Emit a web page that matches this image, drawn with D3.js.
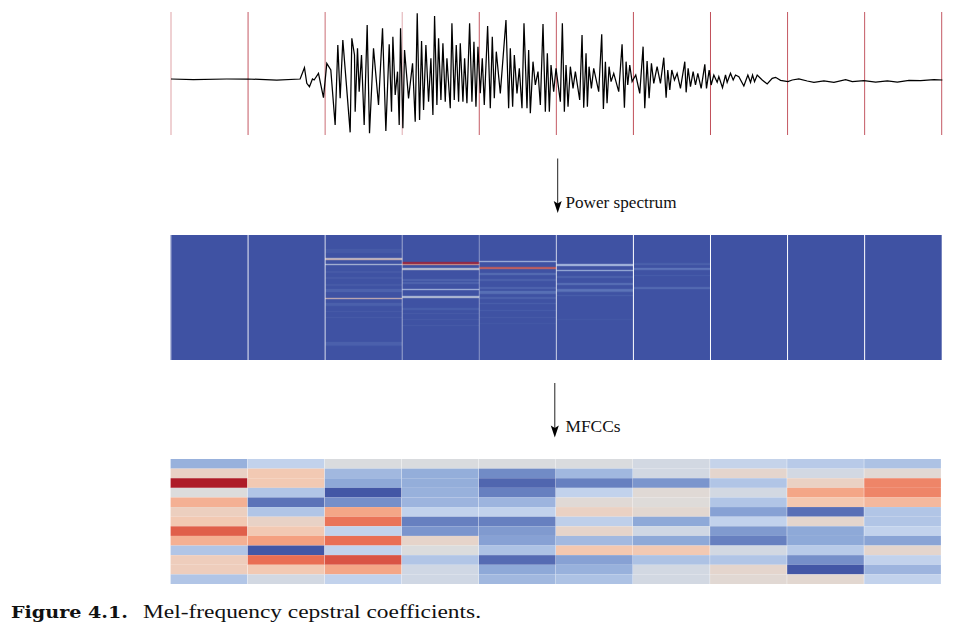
<!DOCTYPE html>
<html><head><meta charset="utf-8">
<script src="https://cdn.jsdelivr.net/npm/d3@7"></script>
<style>html,body{margin:0;padding:0;background:#fff}svg{display:block}</style>
</head><body><svg id="c" width="961" height="628"></svg>
<script>
// Waveform: sample index and amplitude of the turning points
const waveTime = [33,100,200,263,350,420,433,440,448,457,462,475,490,500,512,525,533,540,548,558,570,575,583,585,592,597,604,612,621,628,640,655,667,677,687,694,698,705,712,717,721,728,733,745,757,765,771,778,784,790,797,805,812,818,823,830,835,842,848,855,860,870,875,882,888,895,900,908,913,920,928,935,941,947,953,960,966,972,982,990,996,1002,1008,1020,1037,1045,1050,1057,1062,1070,1077,1085,1091,1100,1105,1110,1118,1125,1133,1140,1148,1155,1161,1167,1172,1180,1187,1200,1206,1212,1217,1223,1230,1238,1245,1258,1265,1270,1277,1281,1286,1293,1300,1315,1324,1329,1335,1340,1346,1352,1360,1375,1385,1392,1397,1402,1408,1415,1426,1438,1448,1453,1460,1466,1473,1480,1490,1500,1510,1517,1522,1528,1534,1542,1550,1560,1573,1577,1583,1590,1598,1605,1612,1622,1633,1638,1646,1652,1660,1670,1675,1686,1695,1700,1710,1718,1725,1735,1750,1762,1770,1776,1782,1790,1805,1820,1835,1845,1860,1882,1895,1915,1940,1960,1990,2020,2055,2075,2110,2145,2180,2210,2245,2280,2320,2345];
const waveAmp = [3,1,3,3,0,3,37,-10,-20,3,0,20,-53,50,30,-135,105,-55,120,-5,-157,125,75,-95,95,-35,75,-135,165,-160,95,-75,155,-153,107,-95,130,-45,25,-135,155,-145,90,-55,50,-125,200,-120,117,-90,105,-65,65,-105,192,-75,125,-60,110,-65,65,-85,170,-60,105,-65,110,-65,65,-70,170,-65,115,-80,100,-40,65,-75,162,-85,130,-55,85,-40,180,-85,95,-80,75,-40,35,-85,170,-85,90,-100,55,-15,25,-75,168,-95,80,-95,45,-35,35,-65,170,-95,45,-80,40,-25,25,-60,135,-83,80,-80,40,-25,35,-35,137,-87,55,-70,40,-5,20,-35,107,-83,55,-15,45,-5,15,-40,100,-85,57,-55,50,-10,40,-10,67,-53,30,-30,30,0,20,-25,55,-37,35,-20,25,-15,20,-25,47,-25,30,-15,15,-7,10,-23,15,-7,20,0,15,10,-18,15,-7,15,-5,15,0,-12,5,8,-1,-5,0,3,-3,-7,-3,-7,1,-5,-2,-6,-3,-6,-1,-2,1,0];

// Frame boundaries and strengths
const frames = [0,1,2,3,4,5,6,7,8,9,10];
const frameRedOpacity = [0.45,0.8,0.7,0.4,0.8,0.8,0.85,0.85,0.8,0.8,0.8];
const specLineOpacity = [0.5,0.9,0.8,0.5,0.4,0.75,1,1,1,1,0];

// Power spectrum: [frequency bin, value] per frame (-1 = dark blue, 1 = dark red)
const spec0 = [], spec1 = [], spec7 = [], spec8 = [], spec9 = [];
const spec2 = [[14,-.93],[15,-.93],[16,-.93],[17,-.93],[23,.1],[24,.25],[29,-.1],[36,-.93],[37,-.93],[42,-.93],[43,-.93],[49,-.93],[50,-.93],[54,-.86],[55,-.86],[56,-.86],[63,.25],[68,-.88],[69,-.88],[70,-.9],[76,-.93],[82,-.93],[107,-.88],[108,-.88],[109,-.88],[110,-.92]];
const spec3 = [[27,1],[28,1],[29,.5],[33,-.05],[34,0],[44,-.86],[45,-.86],[47,-.86],[48,-.86],[54,-.2],[61,-.1],[62,-.05],[73,-.9],[74,-.9],[78,-.93],[84,-.93],[90,-.93]];
const spec4 = [[26,-.2],[32,.75],[33,.7],[38,-.8],[39,-.8],[44,-.88],[45,-.88],[52,-.86],[53,-.86],[56,-.76],[57,-.76],[58,-.8],[62,-.88],[63,-.88],[68,-.9],[75,-.92],[82,-.93],[88,-.95]];
const spec5 = [[29,-.2],[30,-.2],[35,-.25],[41,-.88],[42,-.88],[48,-.78],[49,-.78],[54,-.75],[55,-.72],[56,-.8],[60,-.9],[84,-.95]];
const spec6 = [[28,-.9],[29,-.88],[33,-.72],[34,-.74],[40,-.92],[52,-.82],[53,-.8]];
const specFrames = [spec0,spec1,spec2,spec3,spec4,spec5,spec6,spec7,spec8,spec9];

// MFCCs: 13 coefficients per frame
const mfcc0 = [-.4,.16,1,0,.42,.2,.28,.74,.42,-.28,.22,.22,-.28];
const mfcc1 = [-.2,.28,.28,-.28,-.8,-.28,.15,.28,.5,-.97,.68,.28,-.08];
const mfcc2 = [-.02,-.36,-.45,-.97,-.62,.47,.66,-.2,.68,-.2,.78,.47,-.2];
const mfcc3 = [-.02,-.42,-.42,-.4,-.38,-.2,-.72,-.58,.12,-.01,-.28,-.1,-.1];
const mfcc4 = [-.02,-.65,-.88,-.72,-.38,-.2,-.72,-.55,-.5,-.3,-.85,-.45,-.36];
const mfcc5 = [-.02,-.36,-.72,-.2,.05,.17,-.22,.12,-.35,.3,-.5,-.4,-.3];
const mfcc6 = [-.08,-.08,-.58,.05,.02,.08,-.45,-.1,-.45,.28,-.3,-.08,-.08];
const mfcc7 = [-.18,.1,-.28,-.08,-.28,-.5,-.2,-.55,-.72,-.08,-.28,.1,.06];
const mfcc8 = [-.25,-.08,.17,.47,.3,-.82,.1,-.45,-.45,-.25,-.62,-.97,.08];
const mfcc9 = [-.3,.06,.6,.6,.38,-.28,-.28,-.2,-.48,.1,-.2,-.38,-.2];
const mfccFrames = [mfcc0,mfcc1,mfcc2,mfcc3,mfcc4,mfcc5,mfcc6,mfcc7,mfcc8,mfcc9];

const caption = ["Figure 4.1.","Mel-frequency cepstral coefficients."];
const stepLabels = ["Power spectrum","MFCCs"];

const svg = d3.select("#c");
const X0 = 171, X1 = 941.7;
const x = d3.scaleLinear().domain([0,10]).range([X0,X1]);
const tx = d3.scaleLinear().domain([33,2343]).range([X0,X1]);
const ay = d3.scaleLinear().domain([-225,225]).range([155,5]);
const color = d3.scaleLinear()
  .domain([-1,-.7,-.45,-.2,0,.3,.5,.7,1])
  .range(["#3f52a3","#6a83c2","#8ea9d8","#c2d2ec","#dcdcdc","#f4c8b0","#f4a080","#e8694f","#ae1c28"])
  .clamp(true);

// Waveform panel
svg.append("g").selectAll("line").data(frames).join("line")
  .attr("x1",d=>x(d)).attr("x2",d=>x(d)).attr("y1",12).attr("y2",135)
  .attr("stroke","#b5303c").attr("stroke-opacity",(d,i)=>frameRedOpacity[i]).attr("stroke-width",1);
const wave = d3.line().x(d=>tx(d)).y((d,i)=>ay(waveAmp[i]));
svg.append("path").attr("d",wave(waveTime)).attr("fill","none").attr("stroke","#000")
  .attr("stroke-width",1.25).attr("stroke-linejoin","miter");

// Spectrum panel: each band is drawn as a soft 3-row stack, like the resampled image
const SY0 = 235, SY1 = 360;
const sy = d3.scaleLinear().domain([0,125]).range([SY0,SY1]);
svg.append("rect").attr("x",x(0)-.5).attr("y",SY0).attr("width",x(10)-x(0)+.5).attr("height",SY1-SY0).attr("fill",color(-1));
specFrames.forEach((bands,k)=>{
  const g = svg.append("g");
  g.selectAll("rect.halo").data(bands).join("rect").attr("class","halo")
    .attr("x",x(k)).attr("width",x(k+1)-x(k))
    .attr("y",d=>sy(d[0]-.6)).attr("height",sy(2.2)-sy(0))
    .attr("fill",d=>color(d[1])).attr("fill-opacity",.22);
  g.selectAll("rect.core").data(bands).join("rect").attr("class","core")
    .attr("x",x(k)).attr("width",x(k+1)-x(k))
    .attr("y",d=>sy(d[0])).attr("height",sy(1)-sy(0))
    .attr("fill",d=>color(d[1])).attr("fill-opacity",.6);
});
svg.append("g").selectAll("line").data(frames).join("line")
  .attr("x1",d=>x(d)).attr("x2",d=>x(d)).attr("y1",SY0).attr("y2",SY1)
  .attr("stroke","#fff").attr("stroke-opacity",(d,i)=>specLineOpacity[i]).attr("stroke-width",1);

// MFCC panel
const MY0 = 459, MY1 = 584;
const my = d3.scaleBand().domain(d3.range(13)).range([MY0,MY1]);
mfccFrames.forEach((col,k)=>{
  svg.append("g").selectAll("rect").data(col).join("rect")
    .attr("x",x(k)-.4).attr("width",x(k+1)-x(k)-.4)
    .attr("y",(d,i)=>my(i)).attr("height",my.bandwidth())
    .attr("fill",d=>color(d));
});

// Arrows
function arrow(ax,y0,y1){
  svg.append("line").attr("x1",ax).attr("x2",ax).attr("y1",y0).attr("y2",y1-4).attr("stroke","#222").attr("stroke-width",1);
  svg.append("path").attr("fill","#000")
    .attr("d",`M${ax},${y1} L${ax-4},${y1-12} L${ax},${y1-9.5} L${ax+4},${y1-12} Z`);
}
arrow(557.7,158.5,213);
arrow(554.8,383,437.5);

const serif = "'Liberation Serif',serif";
svg.append("text").attr("x",565.5).attr("y",208).attr("font-family",serif).attr("font-size",16.5)
  .attr("textLength",111).attr("lengthAdjust","spacingAndGlyphs").attr("fill","#111").text(stepLabels[0]);
svg.append("text").attr("x",565.5).attr("y",432).attr("font-family",serif).attr("font-size",16)
  .attr("textLength",55).attr("lengthAdjust","spacingAndGlyphs").attr("fill","#111").text(stepLabels[1]);
svg.append("text").attr("x",11).attr("y",618).attr("font-family","'DejaVu Serif',serif").attr("font-weight","bold").attr("font-size",16.5)
  .attr("textLength",117).attr("lengthAdjust","spacingAndGlyphs").attr("fill","#111").text(caption[0]);
svg.append("text").attr("x",143).attr("y",618).attr("font-family",serif).attr("font-size",19)
  .attr("textLength",338).attr("lengthAdjust","spacingAndGlyphs").attr("fill","#111").text(caption[1]);
</script></body></html>
